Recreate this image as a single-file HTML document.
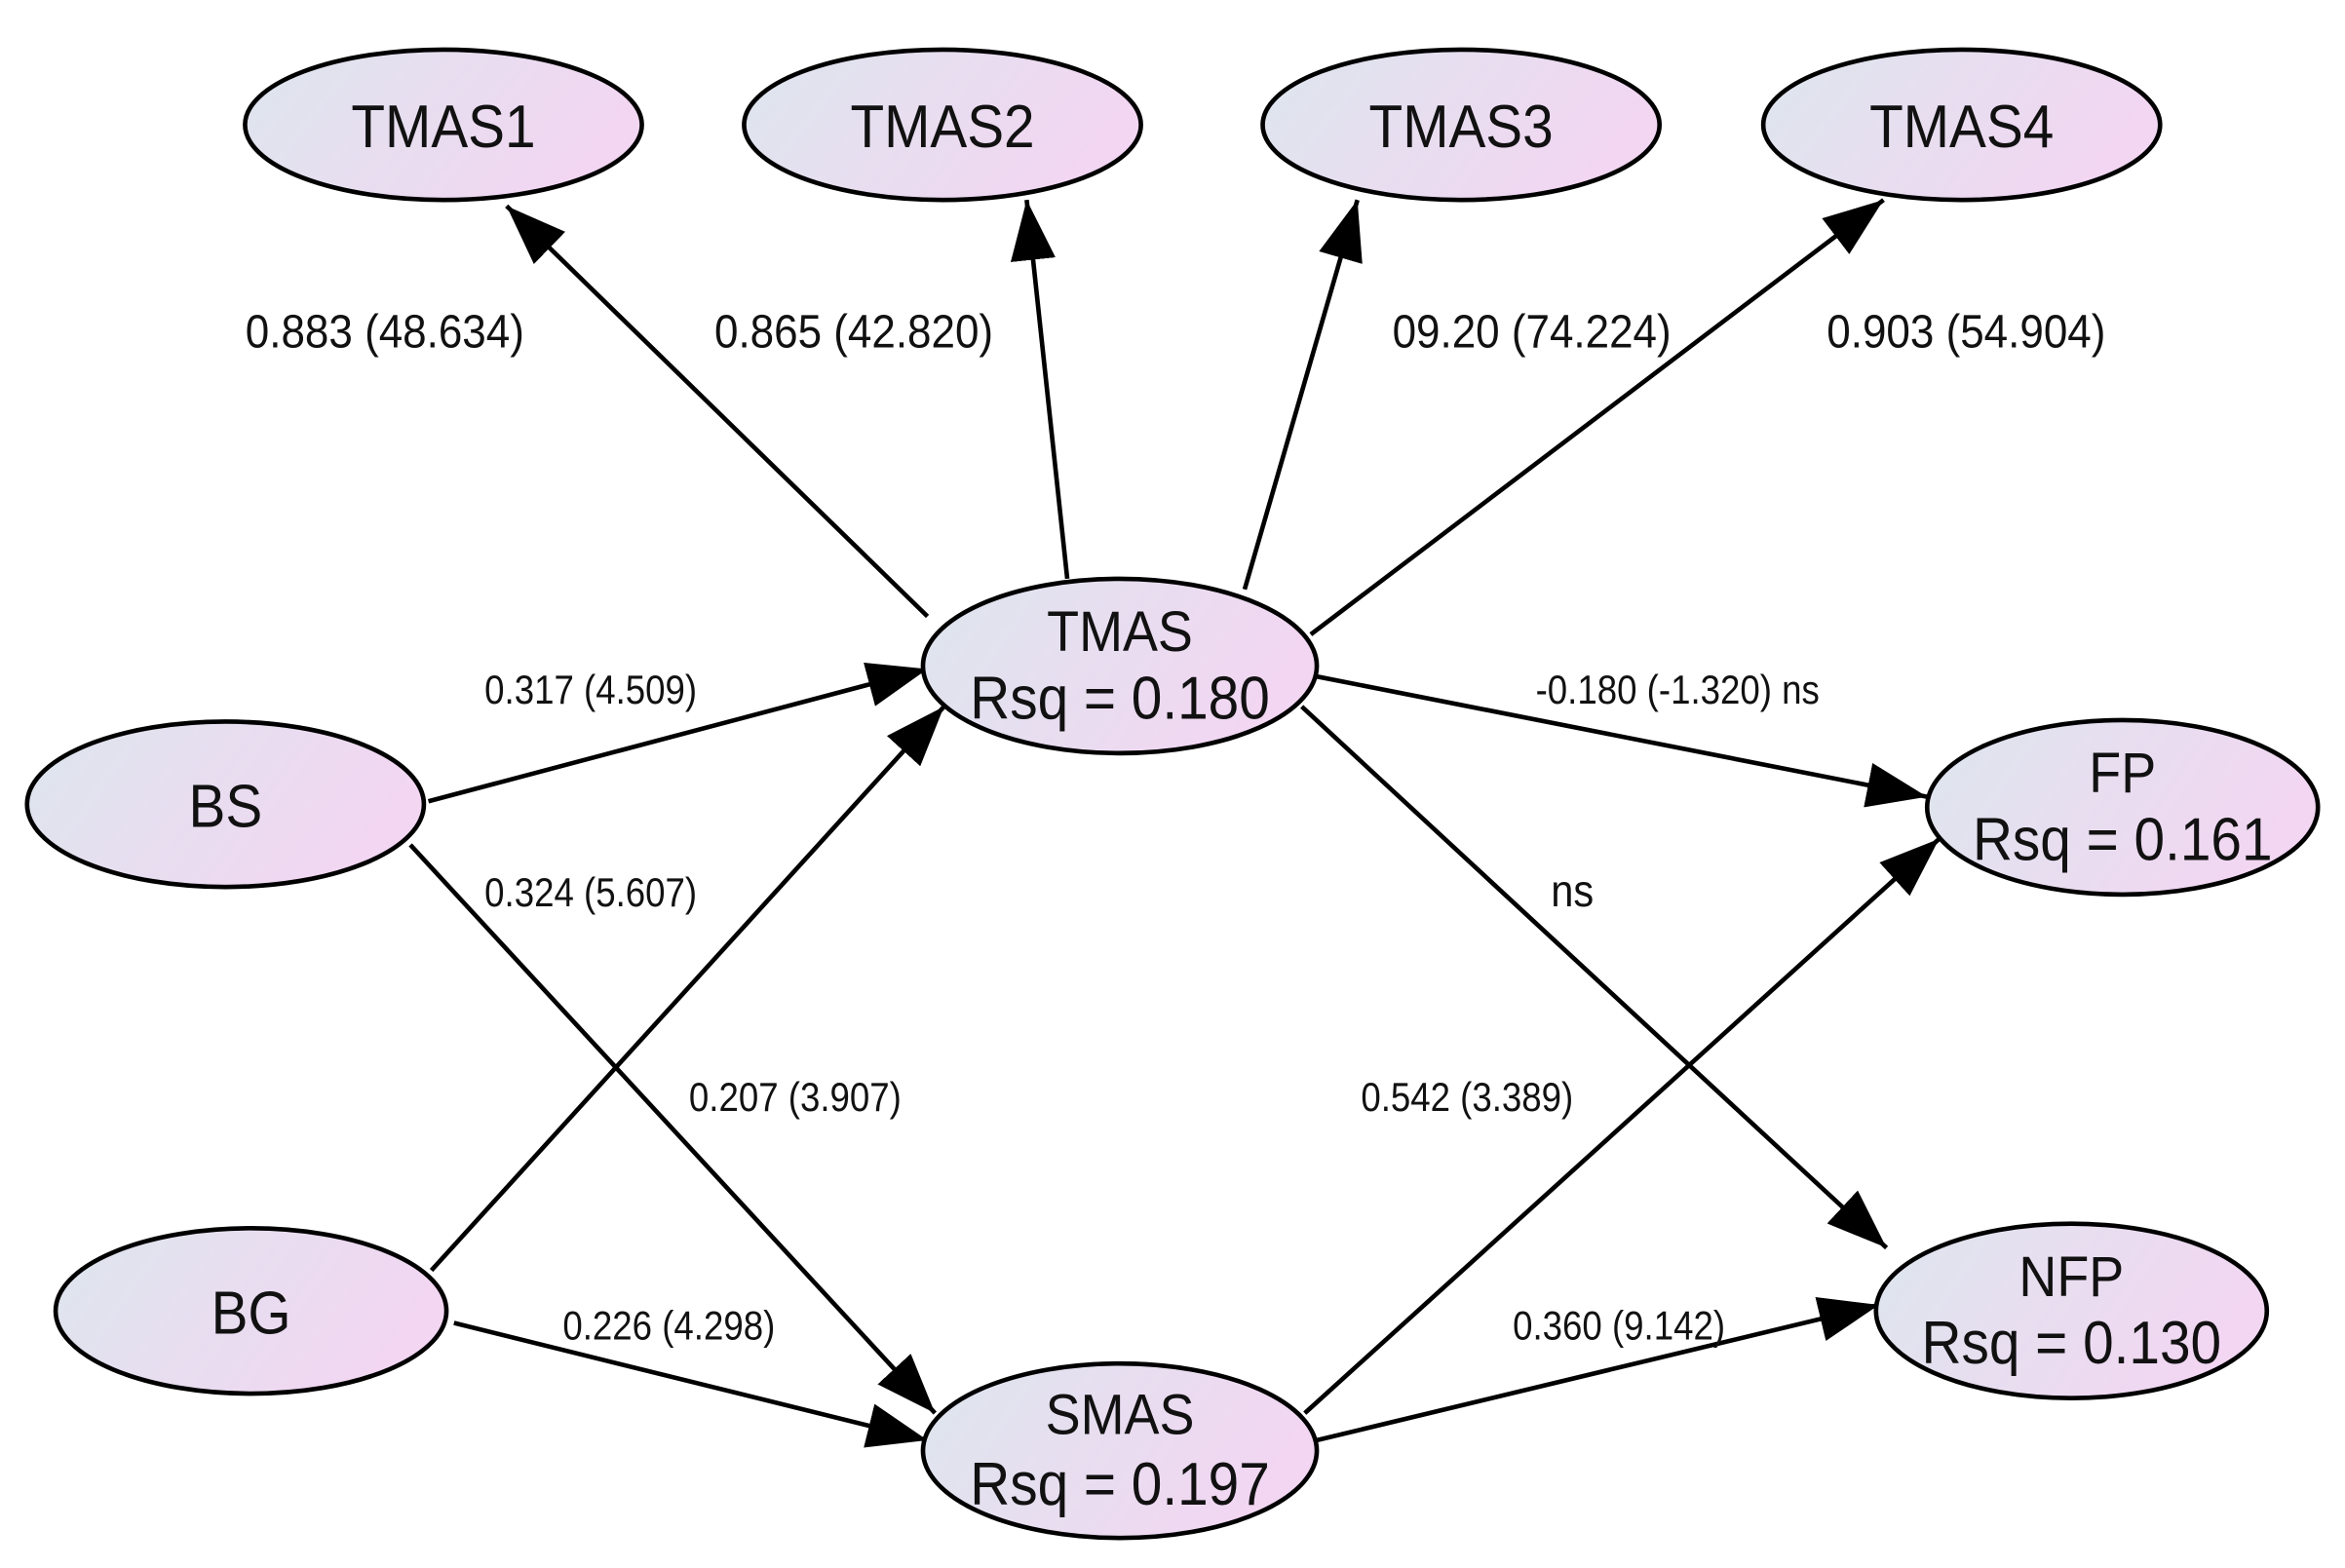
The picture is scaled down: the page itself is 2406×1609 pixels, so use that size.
<!DOCTYPE html>
<html><head><meta charset="utf-8"><style>html,body{margin:0;padding:0;background:#fff}svg{display:block}</style></head>
<body>
<svg width="2406" height="1609" viewBox="0 0 1560 1043" preserveAspectRatio="none" xmlns="http://www.w3.org/2000/svg" font-family="Liberation Sans, Arial, sans-serif">
<defs>
<linearGradient id="g" x1="0" y1="0" x2="1" y2="0.3">
<stop offset="0" stop-color="#dde6ee"/><stop offset="1" stop-color="#f2d6f2"/></linearGradient>
<marker id="b" viewBox="0 0 40 30" refX="40" refY="15" markerWidth="40" markerHeight="30" markerUnits="userSpaceOnUse" orient="auto">
<path d="M0,0 L40,15 L0,30 z" fill="#000"/></marker>
</defs>
<g stroke="#000" stroke-width="3" marker-end="url(#b)">
<line x1="617" y1="410" x2="337" y2="137"/>
<line x1="710" y1="385" x2="683" y2="133"/>
<line x1="828" y1="392" x2="903" y2="133"/>
<line x1="872" y1="422" x2="1253" y2="133"/>
<line x1="285" y1="533" x2="617" y2="445"/>
<line x1="287" y1="845" x2="628" y2="470"/>
<line x1="273" y1="562" x2="622" y2="940"/>
<line x1="302" y1="880" x2="617" y2="958"/>
<line x1="876" y1="450" x2="1282" y2="530"/>
<line x1="866" y1="470" x2="1255" y2="830"/>
<line x1="868" y1="940" x2="1290" y2="558"/>
<line x1="876" y1="958" x2="1250" y2="868"/>
</g>
<g fill="url(#g)" stroke="#000" stroke-width="3">
<ellipse cx="295" cy="83" rx="132" ry="50"/>
<ellipse cx="627" cy="83" rx="132" ry="50"/>
<ellipse cx="972" cy="83" rx="132" ry="50"/>
<ellipse cx="1305" cy="83" rx="132" ry="50"/>
<ellipse cx="745" cy="443" rx="131" ry="58"/>
<ellipse cx="150" cy="535" rx="132" ry="55"/>
<ellipse cx="167" cy="872" rx="130" ry="55"/>
<ellipse cx="745" cy="965" rx="131" ry="58"/>
<ellipse cx="1412" cy="537" rx="130" ry="58"/>
<ellipse cx="1378" cy="872" rx="130" ry="58"/>
</g>
<g font-size="40" text-anchor="middle" fill="#111">
<text transform="translate(295 98) scale(0.92 1)">TMAS1</text>
<text transform="translate(627 98) scale(0.92 1)">TMAS2</text>
<text transform="translate(972 98) scale(0.92 1)">TMAS3</text>
<text transform="translate(1305 98) scale(0.92 1)">TMAS4</text>
<text transform="translate(150 550) scale(0.92 1)">BS</text>
<text transform="translate(167 887) scale(0.92 1)">BG</text>
<text transform="translate(745 433) scale(0.92 1)" font-size="38">TMAS</text>
<text transform="translate(745 478) scale(0.92 1)">Rsq = 0.180</text>
<text transform="translate(745 954) scale(0.92 1)" font-size="38">SMAS</text>
<text transform="translate(745 1001) scale(0.92 1)">Rsq = 0.197</text>
<text transform="translate(1412 527) scale(0.92 1)" font-size="38">FP</text>
<text transform="translate(1412 572) scale(0.92 1)">Rsq = 0.161</text>
<text transform="translate(1378 862) scale(0.92 1)" font-size="38">NFP</text>
<text transform="translate(1378 907) scale(0.92 1)">Rsq = 0.130</text>
</g>
<g font-size="31" text-anchor="middle" fill="#111">
<text transform="translate(256 231) scale(0.92 1)">0.883 (48.634)</text>
<text transform="translate(568 231) scale(0.92 1)">0.865 (42.820)</text>
<text transform="translate(1019 231) scale(0.92 1)">09.20 (74.224)</text>
<text transform="translate(1308 231) scale(0.92 1)">0.903 (54.904)</text>
</g>
<g font-size="27" text-anchor="middle" fill="#111">
<text transform="translate(393 468) scale(0.88 1)">0.317 (4.509)</text>
<text transform="translate(393 603) scale(0.88 1)">0.324 (5.607)</text>
<text transform="translate(529 739) scale(0.88 1)">0.207 (3.907)</text>
<text transform="translate(445 891) scale(0.88 1)">0.226 (4.298)</text>
<text transform="translate(1116 468) scale(0.88 1)">-0.180 (-1.320) ns</text>
<text transform="translate(1046 603) scale(0.9 1)" font-size="30">ns</text>
<text transform="translate(976 739) scale(0.88 1)">0.542 (3.389)</text>
<text transform="translate(1077 891) scale(0.88 1)">0.360 (9.142)</text>
</g>
</svg>
</body></html>
